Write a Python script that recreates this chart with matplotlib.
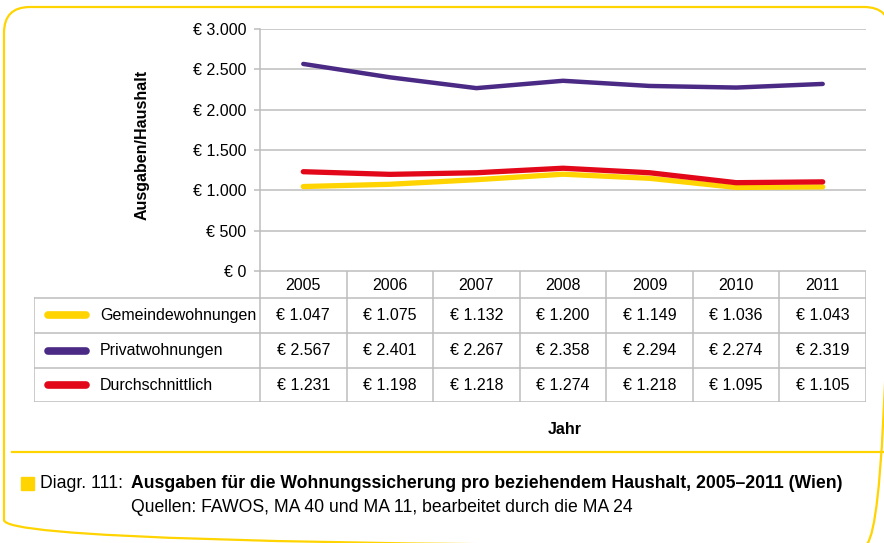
import matplotlib.pyplot as plt
from matplotlib import font_manager
from matplotlib.patches import FancyBboxPatch, Rectangle

names = {f.name for f in font_manager.fontManager.ttflist}
if 'Liberation Sans Narrow' in names:
    FONT, FS, CFS = 'Liberation Sans Narrow', 13.5, 14.5
else:
    FONT, FS, CFS = 'Liberation Sans', 11.5, 12.7
plt.rcParams['font.family'] = [FONT, 'DejaVu Sans']

years = ['2005', '2006', '2007', '2008', '2009', '2010', '2011']
gemeinde = [1047, 1075, 1132, 1200, 1149, 1036, 1043]
privat = [2567, 2401, 2267, 2358, 2294, 2274, 2319]
durchschnitt = [1231, 1198, 1218, 1274, 1218, 1095, 1105]
series_names = ['Gemeindewohnungen', 'Privatwohnungen', 'Durchschnittlich']
series_colors = ['#FFD400', '#4B2A85', '#E2081A']
y_ticks = [0, 500, 1000, 1500, 2000, 2500, 3000]

W, H = 884, 543
GRID = '#BDBDBD'


def euro(v):
    return '€ ' + f'{v:,}'.replace(',', '.')


fig = plt.figure(figsize=(W / 100, H / 100), dpi=100)

# background axes in pixel units for frame and caption decoration
bg = fig.add_axes([0, 0, 1, 1])
bg.set_xlim(0, W)
bg.set_ylim(H, 0)
bg.axis('off')
bg.add_patch(FancyBboxPatch((4, 7), 886, 539, boxstyle='round,pad=0,rounding_size=26',
                            fill=False, edgecolor='#FFD400', linewidth=1.6))
bg.plot([12, W], [452, 452], color='#FFD400', linewidth=1.6)
bg.add_patch(Rectangle((21, 477), 13, 13, color='#FFD400'))

# main line chart
x0, x1, ytop, ybot = 260, 866, 29, 271
ax = fig.add_axes([x0 / W, 1 - ybot / H, (x1 - x0) / W, (ybot - ytop) / H])
xs = list(range(len(years)))
data = [gemeinde, privat, durchschnitt]
widths = [3.8, 3.2, 3.8]
for vals, col, lw in zip(data, series_colors, widths):
    ax.plot(xs, vals, color=col, linewidth=lw, solid_capstyle='round', zorder=3)
ax.set_xlim(-0.5, len(years) - 0.5)
ax.set_ylim(0, 3000)
ax.set_yticks(y_ticks)
ax.set_yticklabels([euro(v) for v in y_ticks], fontsize=FS)
ax.set_xticks([])
ax.grid(axis='y', color=GRID, linewidth=1.1)
for s in ['top', 'right', 'bottom']:
    ax.spines[s].set_visible(False)
ax.spines['left'].set_color(GRID)
ax.spines['left'].set_linewidth(1.1)
ax.tick_params(axis='y', length=4, color=GRID, width=1.1, pad=6)
ax.set_facecolor('none')

fig.text(142 / W, 1 - 145 / H, 'Ausgaben/Haushalt', rotation=90, fontsize=FS,
         fontweight='bold', ha='center', va='center')

# data table below the chart
tl, tb = 34, 402
cw = (x1 - x0) / len(years)
xl = -0.5 - (x0 - tl) / cw
axt = fig.add_axes([tl / W, 1 - tb / H, (x1 - tl) / W, (tb - ybot) / H])
axt.set_xlim(xl, len(years) - 0.5)
axt.set_ylim(tb - ybot, 0)
axt.axis('off')
rows = [0, 27, 62, 97, 131]
lc = dict(color=GRID, linewidth=1.1)
axt.plot([-0.5, len(years) - 0.5], [rows[0], rows[0]], **lc)
for r in rows[1:]:
    axt.plot([xl, len(years) - 0.5], [r, r], **lc)
for k in range(len(years) + 1):
    axt.plot([k - 0.5, k - 0.5], [rows[0], rows[-1]], **lc)
axt.plot([xl, xl], [rows[1], rows[-1]], **lc)

for i, yr in enumerate(years):
    axt.text(i, (rows[0] + rows[1]) / 2 + 1, yr, ha='center', va='center', fontsize=FS)


def px(p):
    return -0.5 + (p - x0) / cw


for j, (name, col, vals) in enumerate(zip(series_names, series_colors, data)):
    yc = (rows[j + 1] + rows[j + 2]) / 2
    axt.plot([px(48), px(86)], [yc, yc], color=col, linewidth=5.5,
             solid_capstyle='round')
    axt.text(px(100), yc, name, ha='left', va='center', fontsize=FS)
    for i, v in enumerate(vals):
        axt.text(i, yc, euro(v), ha='center', va='center', fontsize=FS)

fig.text(565 / W, 1 - 430 / H, 'Jahr', fontsize=FS, fontweight='bold',
         ha='center', va='center')

# caption
fig.text(40 / W, 1 - 484 / H, 'Diagr. 111:', fontsize=CFS, ha='left', va='center')
fig.text(131 / W, 1 - 484 / H,
         'Ausgaben für die Wohnungssicherung pro beziehendem Haushalt, 2005–2011 (Wien)',
         fontsize=CFS, fontweight='bold', ha='left', va='center')
fig.text(131 / W, 1 - 508 / H,
         'Quellen: FAWOS, MA 40 und MA 11, bearbeitet durch die MA 24',
         fontsize=CFS, ha='left', va='center')

fig.savefig('out.png', dpi=100)
